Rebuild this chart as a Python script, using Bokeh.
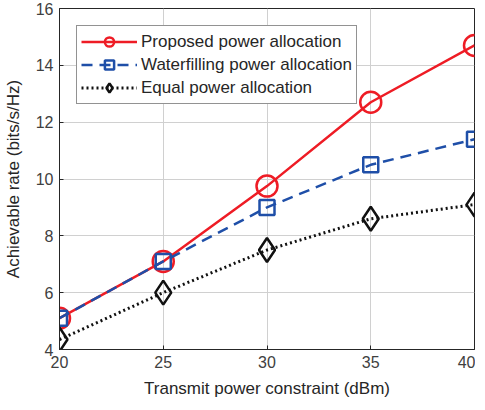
from bokeh.plotting import figure
from bokeh.models import Range1d, FixedTicker, Legend, LegendItem
from bokeh.embed import file_html
from bokeh.resources import INLINE

power_dbm = [20, 25, 30, 35, 40]
proposed = [5.1, 7.1, 9.75, 12.7, 14.7]
waterfilling = [5.1, 7.1, 9.0, 10.5, 11.4]
equal = [4.35, 6.0, 7.5, 8.6, 9.1]
x_ticks = [20, 25, 30, 35, 40]
y_ticks = [4, 6, 8, 10, 12, 14, 16]

FONT = "Liberation Sans"

p = figure(width=475, height=400, output_backend="svg", toolbar_location=None,
           x_range=Range1d(20, 40), y_range=Range1d(4, 16),
           min_border_left=58, min_border_right=1, min_border_top=8, min_border_bottom=0)
p.background_fill_color = "white"
p.border_fill_color = "white"
p.outline_line_color = "#262626"
p.outline_line_width = 1

for ax in (p.xaxis[0], p.yaxis[0]):
    ax.major_label_text_font = FONT
    ax.major_label_text_font_size = "16px"
    ax.major_label_text_color = "#404040"
    ax.axis_label_text_font = FONT
    ax.axis_label_text_font_size = "17px"
    ax.axis_label_text_font_style = "normal"
    ax.axis_label_text_color = "#262626"
    ax.axis_line_color = "#262626"
    ax.major_tick_line_color = "#262626"
    ax.major_tick_in = 4
    ax.major_tick_out = 0
    ax.minor_tick_line_color = None

p.xaxis.ticker = FixedTicker(ticks=x_ticks)
p.yaxis.ticker = FixedTicker(ticks=y_ticks)
p.xaxis.axis_label = "Transmit power constraint (dBm)"
p.yaxis.axis_label = "Achievable rate (bits/s/Hz)"
p.xaxis.major_label_standoff = 6
p.xaxis.axis_label_standoff = 8
p.yaxis.major_label_standoff = 6
p.yaxis.axis_label_standoff = 10

p.xgrid.grid_line_color = "#d0d0d0"
p.ygrid.grid_line_color = "#d0d0d0"
p.xgrid.grid_line_width = 1
p.ygrid.grid_line_width = 1

red = "#ee1c25"
blue = "#1f4fa8"
black = "#111111"

l1 = p.line(power_dbm, proposed, line_color=red, line_width=2.5)
m1 = p.scatter(power_dbm, proposed, marker="circle", size=21, line_color=red,
               line_width=2.5, fill_color=None)
l2 = p.line(power_dbm, waterfilling, line_color=blue, line_width=2.5, line_dash="11 7")
m2 = p.scatter(power_dbm, waterfilling, marker="square", size=15, line_color=blue,
               line_width=2.5, fill_color=None)
l3 = p.line(power_dbm, equal, line_color=black, line_width=3, line_dash="2 3")
m3 = p.scatter(power_dbm, equal, marker="diamond", size=24, line_color=black,
               line_width=2.5, fill_color=None)

legend = Legend(items=[
    LegendItem(label="Proposed power allocation", renderers=[l1, m1]),
    LegendItem(label="Waterfilling power allocation", renderers=[l2, m2]),
    LegendItem(label="Equal power allocation", renderers=[l3, m3]),
], location="top_left")
legend.margin = 17
legend.padding = 4
legend.spacing = 0
legend.glyph_width = 56
legend.glyph_height = 23
legend.label_standoff = 4
legend.label_text_font = FONT
legend.label_text_font_size = "17px"
legend.label_text_color = "#262626"
legend.border_line_color = "#262626"
legend.border_line_width = 1
legend.background_fill_color = "white"
legend.background_fill_alpha = 1
p.add_layout(legend)

open("out.html", "w").write(file_html(p, INLINE))
